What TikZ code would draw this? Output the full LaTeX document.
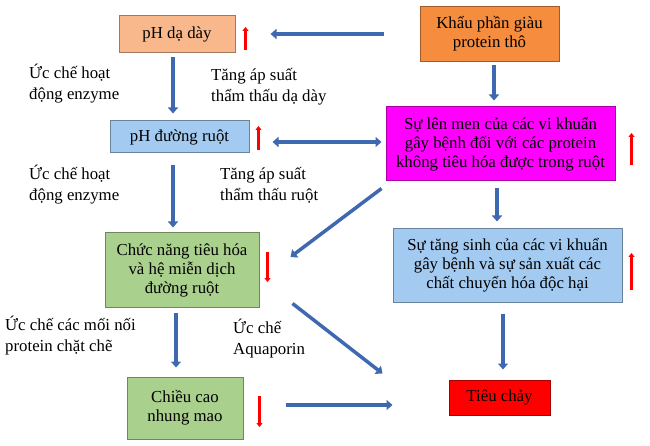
\documentclass[tikz,border=0pt]{standalone}
\usepackage{fontspec}
\setmainfont{Liberation Serif}
\usetikzlibrary{arrows.meta}
\definecolor{peach}{RGB}{248,184,140}
\definecolor{carrot}{RGB}{246,140,62}
\definecolor{sky}{RGB}{163,202,240}
\definecolor{fuchsia}{RGB}{255,0,255}
\definecolor{leaf}{RGB}{170,208,142}
\definecolor{alarm}{RGB}{255,0,0}
\definecolor{flowblue}{RGB}{62,104,176}
\begin{document}
\begin{tikzpicture}[x=1pt, y=-1pt,
  box/.style={draw=#1!65!black, fill=#1, line width=1pt, align=center, inner sep=2pt,
    font=\fontsize{16.8}{19}\selectfont},
  flow/.style={line width=3.5pt, draw=flowblue, >={Triangle[length=6pt,width=10pt]}, ->},
  redtick/.style={line width=2.4pt, draw=red, -{Triangle[length=4pt,width=6pt]}},
  note/.style={anchor=west, align=left, inner sep=0pt, font=\fontsize{16.8}{21}\selectfont}]
  \useasboundingbox (0,0) rectangle (650,446);

  \node [box=peach, minimum width=116pt, minimum height=37pt] (daday) at (177,34) {pH dạ dày};
  \node [box=carrot, minimum width=139pt, minimum height=55pt] (khau) at (489.5,34) {Khẩu phần giàu\\protein thô};
  \node [box=sky, minimum width=139pt, minimum height=32pt] (ruot) at (179.5,137) {pH đường ruột};
  \node [box=fuchsia, minimum width=229pt, minimum height=74pt] (lenmen) at (500.5,144)
    {Sự lên men của các vi khuẩn\\gây bệnh đối với các protein\\không tiêu hóa được trong ruột};
  \node [box=leaf, minimum width=154pt, minimum height=74pt] (chucnang) at (182,270)
    {Chức năng tiêu hóa\\và hệ miễn dịch\\đường ruột};
  \node [box=sky, minimum width=229pt, minimum height=73pt] (tangsinh) at (507.5,265.5)
    {Sự tăng sinh của các vi khuẩn\\gây bệnh và sự sản xuất các\\chất chuyển hóa độc hại};
  \node [box=alarm, minimum width=101pt, minimum height=35pt] (tieuchay) at (499.5,397.5) {Tiêu chảy};
  \node [box=leaf, minimum width=116pt, minimum height=62pt] (chieucao) at (185,408) {Chiều cao\\nhung mao};

  \node [note] (enz1) at (29,84) {Ức chế hoạt\\động enzyme};
  \node [note] (ttday) at (211,86.5) {Tăng áp suất\\thẩm thấu dạ dày};
  \node [note] (enz2) at (29,185) {Ức chế hoạt\\động enzyme};
  \node [note] (ttruot) at (220,185) {Tăng áp suất\\thẩm thấu ruột};
  \node [note] (moinoi) at (5,335.5) {Ức chế các mối nối\\protein chặt chẽ};
  \node [note] (aqua) at (233,339) {Ức chế\\Aquaporin};

  \draw [flow] ([xshift=-36pt]khau.west) -- ([xshift=35pt]daday.east);
  \draw [flow] ([xshift=4.5pt,yshift=-3.5pt]khau.south) -- ([xshift=-6.5pt,yshift=6pt]lenmen.north);
  \draw [flow] ([xshift=-4pt,yshift=-4.5pt]daday.south) -- ([xshift=-6.5pt,yshift=7pt]ruot.north);
  \draw [flow, <->] ([xshift=23pt,yshift=-5pt]ruot.east) -- ([xshift=-4pt,yshift=2pt]lenmen.west);
  \draw [flow] ([xshift=-6.5pt,yshift=-12pt]ruot.south) -- ([xshift=-9pt,yshift=5pt]chucnang.north);
  \draw [flow] ([xshift=-4pt,yshift=-7pt]lenmen.south west) -- ([xshift=31pt,yshift=13pt]chucnang.east);
  \draw [flow] ([xshift=-3.5pt,yshift=-7pt]lenmen.south) -- ([xshift=-10.5pt,yshift=7pt]tangsinh.north);
  \draw [flow] ([xshift=-4.5pt,yshift=-11pt]tangsinh.south) -- ([xshift=3.5pt,yshift=10pt]tieuchay.north);
  \draw [flow] ([xshift=-6pt,yshift=-5pt]chucnang.south) -- ([xshift=-9pt,yshift=9pt]chieucao.north);
  \draw [flow] ([xshift=33pt,yshift=4pt]chucnang.south east) -- ([xshift=-66pt,yshift=6pt]tieuchay.north west);
  \draw [flow] ([xshift=42pt,yshift=3pt]chieucao.east) -- ([xshift=-56pt,yshift=-7.5pt]tieuchay.west);

  \draw [redtick] ([xshift=10pt,yshift=-16pt]daday.east) -- ++(0,-23);
  \draw [redtick] ([xshift=9pt,yshift=-13pt]ruot.east) -- ++(0,-24);
  \draw [redtick] ([xshift=16pt,yshift=-21pt]lenmen.east) -- ++(0,-32);
  \draw [redtick] ([xshift=8pt,yshift=18pt]chucnang.east) -- ++(0,30);
  \draw [redtick] ([xshift=9pt,yshift=-24.5pt]tangsinh.east) -- ++(0,-37);
  \draw [redtick] ([xshift=16pt,yshift=12pt]chieucao.east) -- ++(0,31);

\end{tikzpicture}
\end{document}
